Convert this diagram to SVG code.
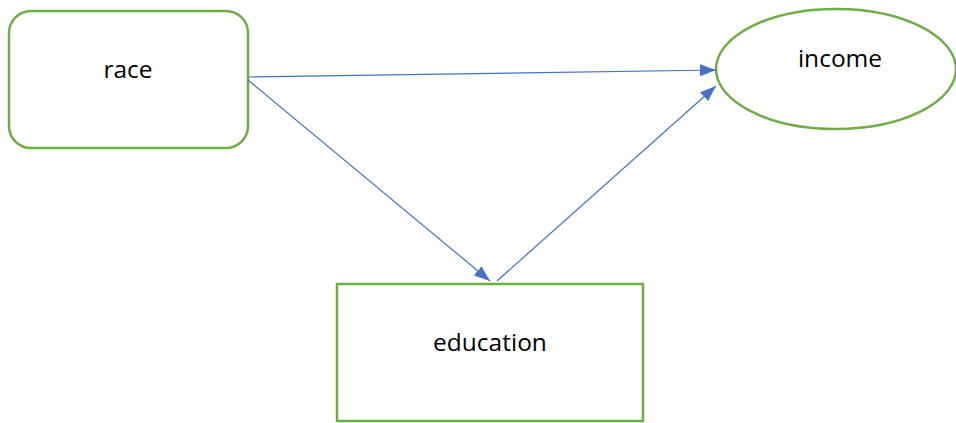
<svg xmlns="http://www.w3.org/2000/svg" width="956" height="423" viewBox="0 0 956 423">
<style>
.node{fill:#fff;stroke:#70AD47;stroke-width:2.5}
.lbl{font-family:"Open Sans","Liberation Sans",sans-serif;font-size:24.5px;fill:#000;text-anchor:middle}
.edge{stroke:#4472C4;stroke-width:1.2;fill:none;marker-end:url(#ah)}
</style>
<defs>
<marker id="ah" markerWidth="16" markerHeight="12" refX="16" refY="6" orient="auto" markerUnits="userSpaceOnUse">
<path d="M0,0 L16,6 L0,12 Z" fill="#4472C4"/>
</marker>
</defs>
<g id="race"><rect class="node" x="9" y="11" width="239" height="137" rx="22"/><text class="lbl" x="128" y="78">race</text></g>
<g id="income"><ellipse class="node" cx="836" cy="69" rx="120" ry="60"/><text class="lbl" x="840" y="67">income</text></g>
<g id="education"><rect class="node" x="337" y="284" width="306" height="137"/><text class="lbl" x="490" y="351">education</text></g>
<g id="connectors">
<line class="edge" x1="248" y1="77" x2="716" y2="70"/>
<line class="edge" x1="248" y1="80" x2="490" y2="281"/>
<line class="edge" x1="497" y1="281" x2="716" y2="86"/>
</g>
</svg>
